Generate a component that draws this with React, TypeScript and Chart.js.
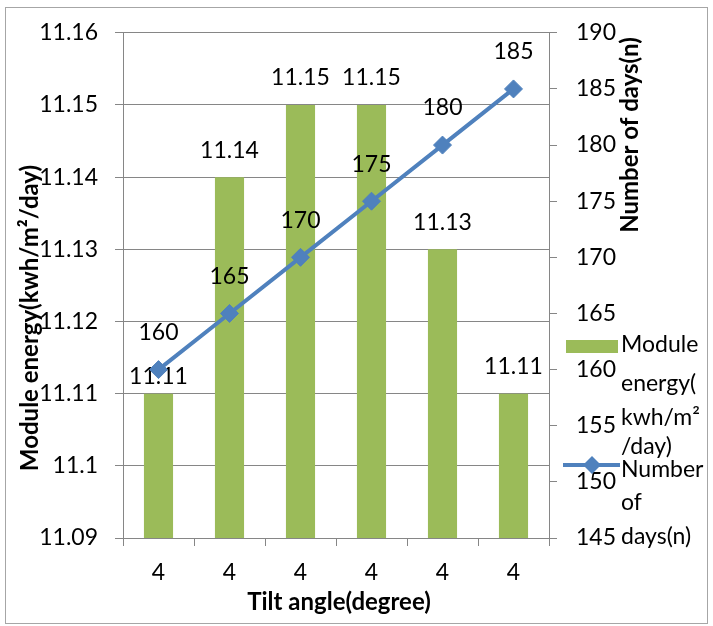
import React, { useEffect, useRef } from "react";
import { Chart, registerables } from "chart.js";

Chart.register(...registerables);

// Categories and series
const tiltAngles = ["4", "4", "4", "4", "4", "4"];
const moduleEnergy = [11.11, 11.14, 11.15, 11.15, 11.13, 11.11];
const numberOfDays = [160, 165, 170, 175, 180, 185];

// Axis tick values
const energyTicks = [11.09, 11.1, 11.11, 11.12, 11.13, 11.14, 11.15, 11.16];
const daysTicks = [145, 150, 155, 160, 165, 170, 175, 180, 185, 190];

// Legend text, wrapped the way it is shown
const energyLegendLines = ["Module", "energy(", "kwh/m²", "/day)"];
const daysLegendLines = ["Number", "of", "days(n)"];

const FONT = "Lato, 'Open Sans', sans-serif";
const FONT_SIZE = 23;
const GRID = "#868686";
const GREEN = "#9BBB59";
const BLUE = "#4F81BD";

// distance of each bar's value label above the bar top (px)
const barLabelGap = [17, 27, 27, 27, 27, 27];

const decorations = {
  id: "decorations",
  beforeDraw(chart: any) {
    const ctx = chart.ctx;
    ctx.save();
    ctx.strokeStyle = "#a6a6a6";
    ctx.lineWidth = 1;
    ctx.strokeRect(5.5, 7.5, 702, 616);
    ctx.restore();
  },
  afterDatasetDraw(chart: any, args: any) {
    // bar value labels sit beneath the line series
    if (args.index !== 0) return;
    const ctx = chart.ctx;
    ctx.save();
    ctx.fillStyle = "#000";
    ctx.textAlign = "center";
    ctx.textBaseline = "middle";
    ctx.font = `${FONT_SIZE}px ${FONT}`;
    chart.getDatasetMeta(0).data.forEach((el: any, i: number) => {
      ctx.fillText(moduleEnergy[i].toFixed(2), el.x, el.y - barLabelGap[i]);
    });
    ctx.restore();
  },
  afterDraw(chart: any) {
    const ctx = chart.ctx;
    ctx.save();
    ctx.fillStyle = "#000";
    ctx.textAlign = "center";
    ctx.textBaseline = "middle";
    ctx.font = `${FONT_SIZE}px ${FONT}`;

    // line value labels
    chart.getDatasetMeta(1).data.forEach((el: any, i: number) => {
      ctx.fillText(String(numberOfDays[i]), el.x, el.y - 37);
    });

    // axis titles
    ctx.font = `bold 24px ${FONT}`;
    ctx.save();
    ctx.translate(30, 318);
    ctx.rotate(-Math.PI / 2);
    ctx.fillText("Module energy(kwh/m²/day)", 0, 0);
    ctx.restore();

    ctx.save();
    ctx.translate(630, 135);
    ctx.rotate(-Math.PI / 2);
    ctx.fillText("Number of days(n)", 0, 0);
    ctx.restore();

    ctx.fillText("Tilt angle(degree)", 339, 602);

    // legend
    ctx.fillStyle = GREEN;
    ctx.fillRect(566, 340, 52, 13);
    ctx.strokeStyle = BLUE;
    ctx.lineWidth = 4;
    ctx.beginPath();
    ctx.moveTo(563, 465);
    ctx.lineTo(620, 465);
    ctx.stroke();
    ctx.fillStyle = BLUE;
    ctx.beginPath();
    ctx.moveTo(592 - 9, 465);
    ctx.lineTo(592, 465 - 9);
    ctx.lineTo(592 + 9, 465);
    ctx.lineTo(592, 465 + 9);
    ctx.closePath();
    ctx.fill();

    ctx.fillStyle = "#000";
    ctx.font = `${FONT_SIZE}px ${FONT}`;
    ctx.textAlign = "left";
    ctx.textBaseline = "alphabetic";
    const energyBaselines = [352, 391, 425, 454];
    energyLegendLines.forEach((t, i) => ctx.fillText(t, 621, energyBaselines[i]));
    const daysBaselines = [477, 510, 544];
    daysLegendLines.forEach((t, i) => ctx.fillText(t, 621, daysBaselines[i]));
    ctx.restore();
  },
};

export default function App() {
  const canvasRef = useRef<HTMLCanvasElement | null>(null);

  useEffect(() => {
    if (!canvasRef.current) return;
    const tickFont = { family: FONT, size: FONT_SIZE };
    const chart = new Chart(canvasRef.current, {
      type: "bar",
      data: {
        labels: tiltAngles,
        datasets: [
          {
            type: "bar",
            label: "Module energy(kwh/m²/day)",
            data: moduleEnergy,
            backgroundColor: GREEN,
            barPercentage: 0.41,
            categoryPercentage: 1,
            yAxisID: "y",
            order: 1,
          },
          {
            type: "line",
            label: "Number of days(n)",
            data: numberOfDays,
            borderColor: BLUE,
            borderWidth: 4,
            pointStyle: "rectRot",
            pointRadius: 9,
            pointBackgroundColor: BLUE,
            pointBorderColor: BLUE,
            pointBorderWidth: 1,
            yAxisID: "y1",
            order: 0,
          },
        ] as any,
      },
      options: {
        animation: false,
        responsive: false,
        layout: { padding: { top: 30, left: 0, right: 0, bottom: 0 } },
        plugins: {
          legend: { display: false },
          tooltip: { enabled: false },
        },
        scales: {
          x: {
            grid: {
              offset: true,
              drawOnChartArea: false,
              drawTicks: true,
              tickLength: 8,
              color: GRID,
            },
            border: { color: GRID },
            ticks: { font: tickFont, color: "#000", padding: 13, maxRotation: 0 },
            afterFit: (s: any) => {
              s.height = 88;
            },
          },
          y: {
            position: "left",
            min: 11.09,
            max: 11.16,
            afterBuildTicks: (s: any) => {
              s.ticks = energyTicks.map((v) => ({ value: v }));
            },
            grid: { color: GRID, tickLength: 8 },
            border: { color: GRID },
            ticks: {
              font: tickFont,
              color: "#000",
              padding: 17,
              callback: (v: any) => String(Number(Number(v).toFixed(2))),
            },
            afterFit: (s: any) => {
              s.width = 123;
            },
          },
          y1: {
            position: "right",
            min: 145,
            max: 190,
            afterBuildTicks: (s: any) => {
              s.ticks = daysTicks.map((v) => ({ value: v }));
            },
            grid: { drawOnChartArea: false, color: GRID, tickLength: 8 },
            border: { color: GRID },
            ticks: { font: tickFont, color: "#000", padding: 19 },
            afterFit: (s: any) => {
              s.width = 164;
            },
          },
        },
      } as any,
      plugins: [decorations],
    });
    return () => chart.destroy();
  }, []);

  return (
    <div style={{ position: "fixed", left: 0, top: 0, width: 713, height: 626, background: "#fff" }}>
      <canvas ref={canvasRef} width={713} height={626} style={{ display: "block" }} />
    </div>
  );
}
